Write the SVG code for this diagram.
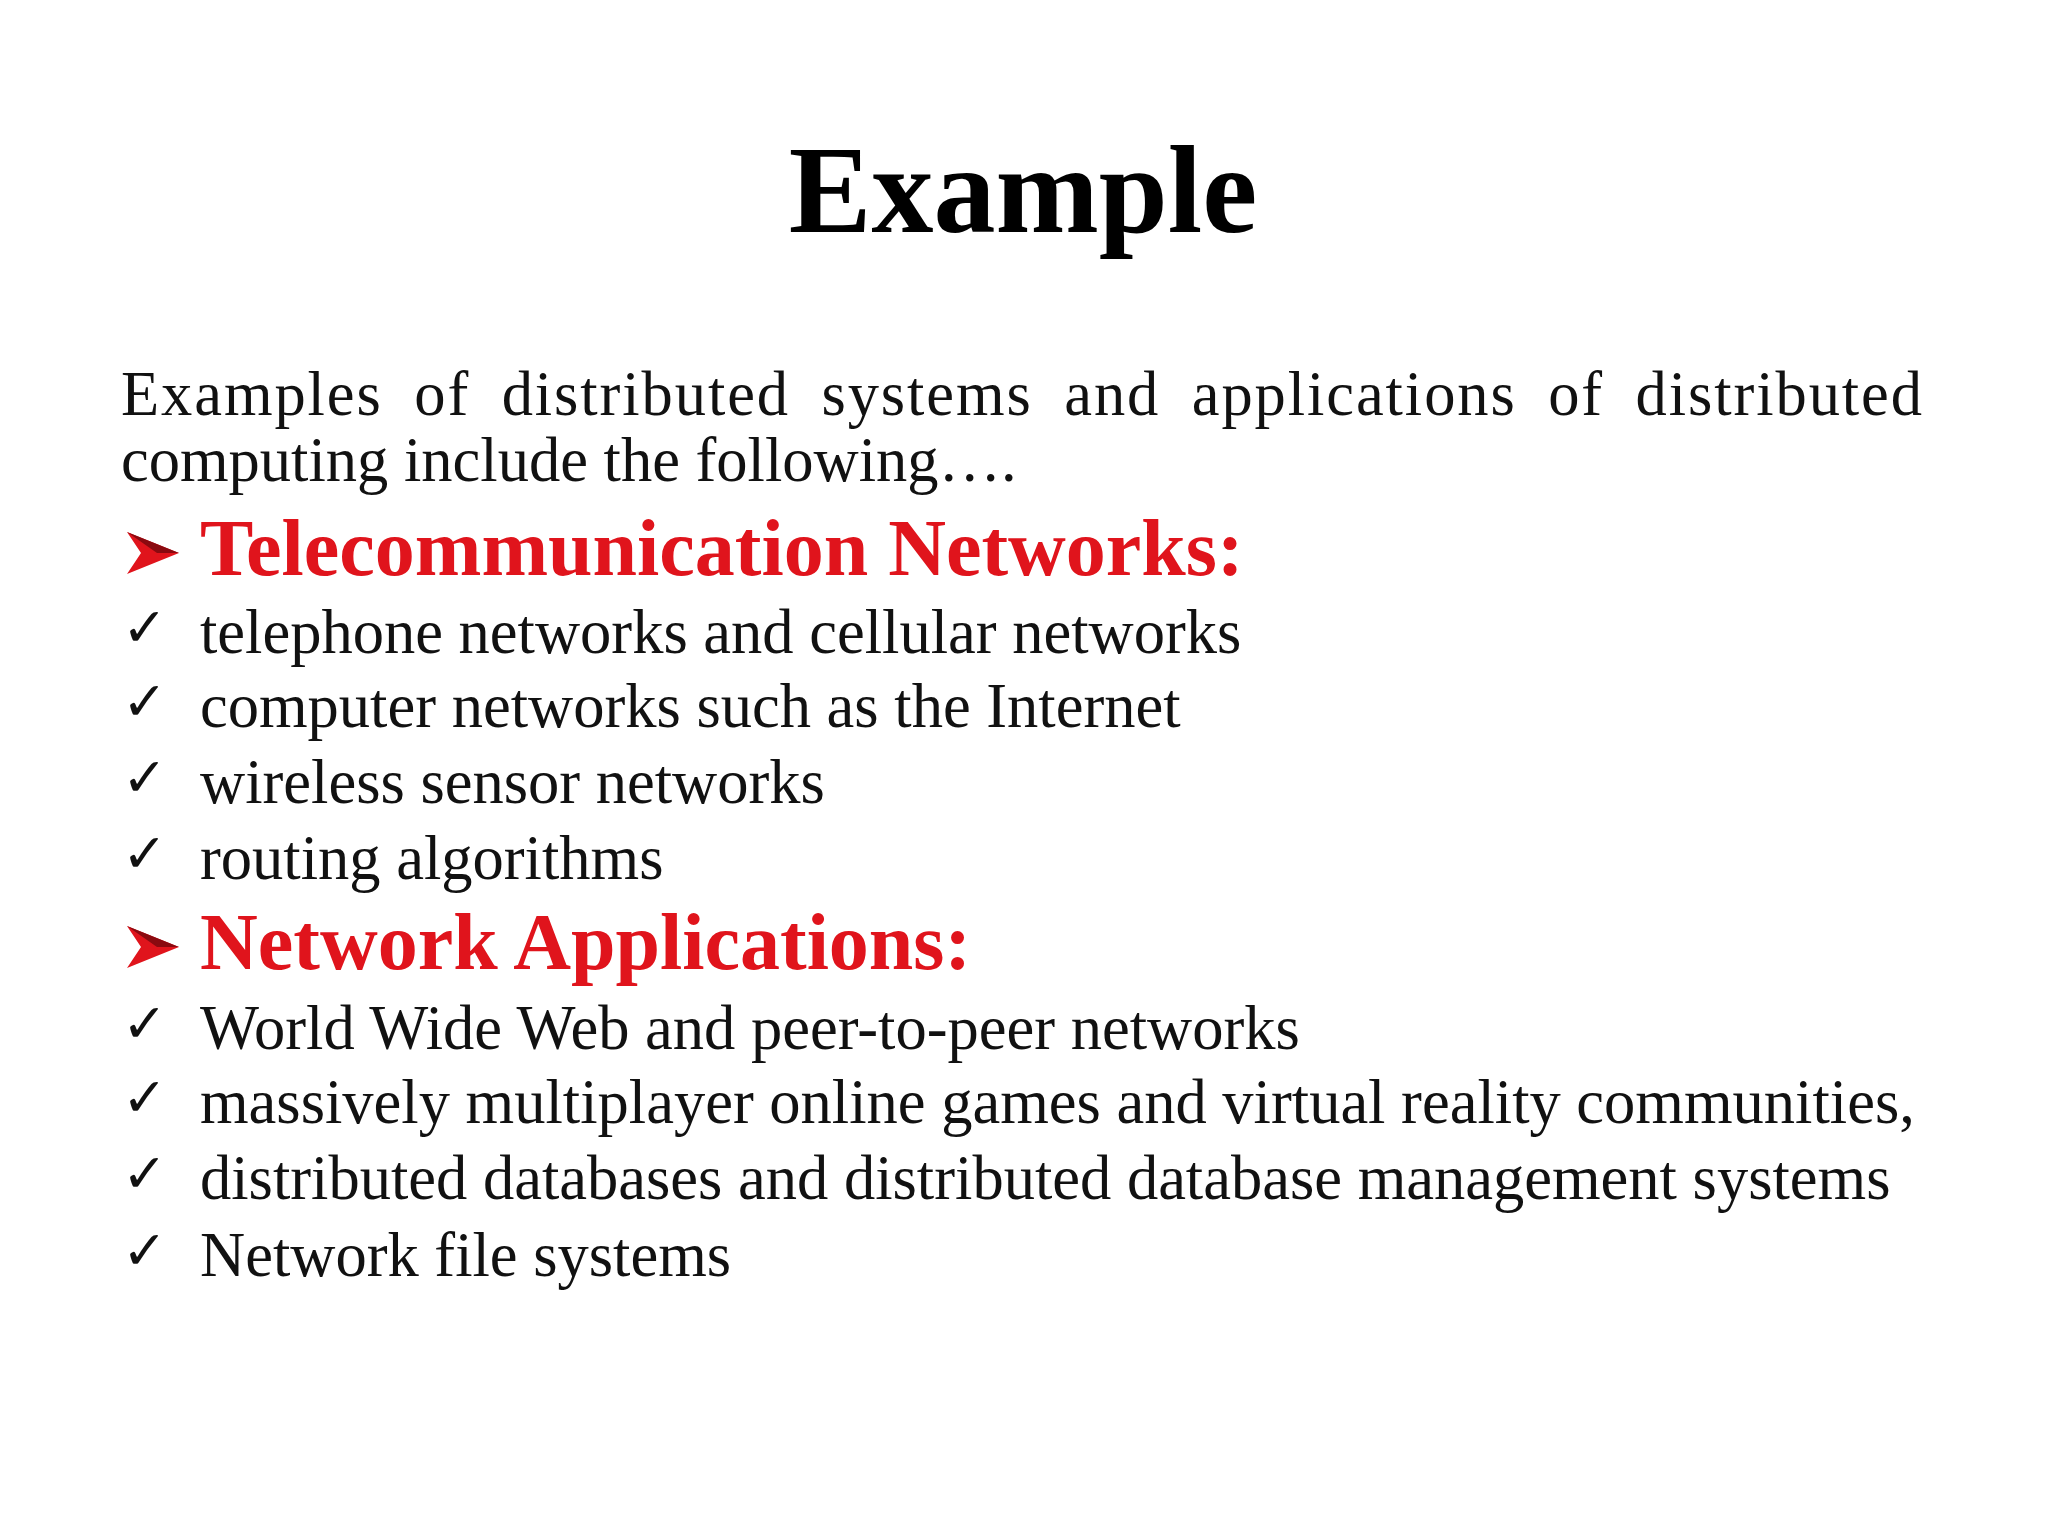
<svg xmlns="http://www.w3.org/2000/svg" width="2048" height="1536" viewBox="0 0 2048 1536">
<style>
.t{font-family:"Liberation Serif","Times New Roman",serif;font-size:62.5px;fill:#111}
.h{font-family:"Liberation Serif","Times New Roman",serif;font-size:80px;font-weight:bold;fill:#e0141c}
.c{font-family:"DejaVu Sans",sans-serif;font-size:54px;fill:#111}
</style>
<defs>
<g id="arr"><polygon points="0,-42 52,-21 0,0 14,-21" fill="#e0141c"/><polygon points="0,-42 52,-21 30,-21" fill="#8a0a10"/></g>
</defs>
<rect width="2048" height="1536" fill="#fff"/>
<g id="title"><text x="1023" y="232" text-anchor="middle" font-family="Liberation Serif,serif" font-weight="bold" font-size="124" fill="#000">Example</text></g>
<g id="intro">
<text class="t" x="121" y="415" textLength="1801" lengthAdjust="spacing" word-spacing="14">Examples of distributed systems and applications of distributed</text>
<text class="t" x="121" y="481">computing include the following….</text>
</g>
<g id="sec1">
<use href="#arr" x="127" y="574"/>
<text class="h" x="200" y="575">Telecommunication Networks:</text>
<text class="c" x="122" y="646">✓</text><text class="t" x="200" y="653">telephone networks and cellular networks</text>
<text class="c" x="122" y="720">✓</text><text class="t" x="200" y="727">computer networks such as the Internet</text>
<text class="c" x="122" y="796">✓</text><text class="t" x="200" y="803">wireless sensor networks</text>
<text class="c" x="122" y="872">✓</text><text class="t" x="200" y="879">routing algorithms</text>
</g>
<g id="sec2">
<use href="#arr" x="127" y="968"/>
<text class="h" x="200" y="969">Network Applications:</text>
<text class="c" x="122" y="1042">✓</text><text class="t" x="200" y="1049">World Wide Web and peer-to-peer networks</text>
<text class="c" x="122" y="1116">✓</text><text class="t" x="200" y="1123">massively multiplayer online games and virtual reality communities,</text>
<text class="c" x="122" y="1192">✓</text><text class="t" x="200" y="1199">distributed databases and distributed database management systems</text>
<text class="c" x="122" y="1269">✓</text><text class="t" x="200" y="1276">Network file systems</text>
</g>
</svg>
